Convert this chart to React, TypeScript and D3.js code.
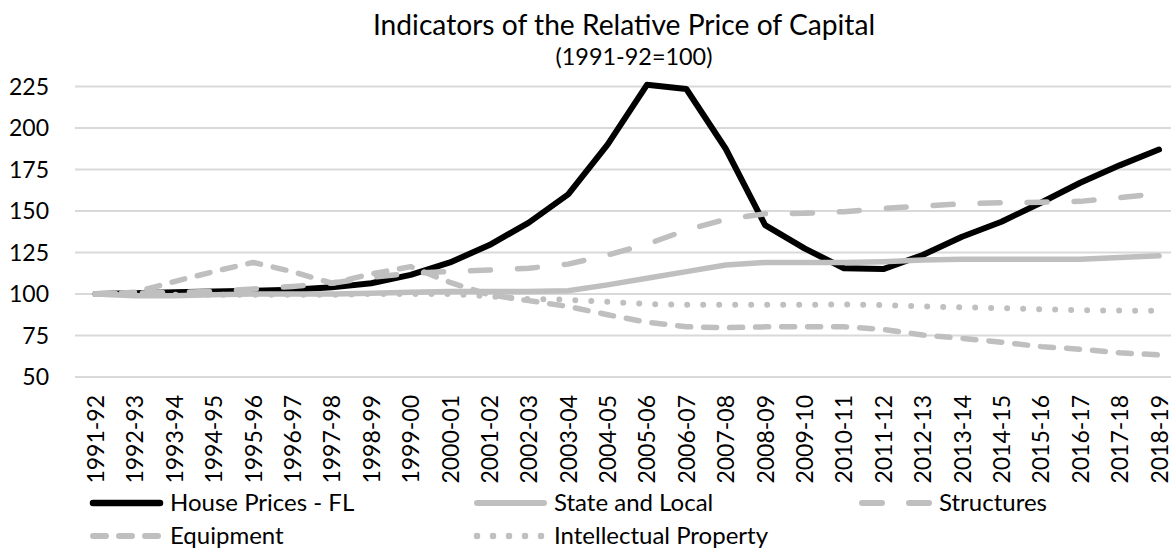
import React from "react";
import * as d3 from "d3";

const categories = [
  "1991-92", "1992-93", "1993-94", "1994-95", "1995-96", "1996-97", "1997-98",
  "1998-99", "1999-00", "2000-01", "2001-02", "2002-03", "2003-04", "2004-05",
  "2005-06", "2006-07", "2007-08", "2008-09", "2009-10", "2010-11", "2011-12",
  "2012-13", "2013-14", "2014-15", "2015-16", "2016-17", "2017-18", "2018-19",
];

const housePrices = [100, 100.5, 101, 101.5, 102, 102.5, 104, 106.5, 111.5, 119, 129.5, 143, 160, 190, 226, 223.5, 187.5, 141.5, 127.5, 115.5, 115, 123.5, 134.5, 143.5, 155, 167, 177.5, 187];
const stateLocal = [100, 99, 99, 99.5, 100, 100, 100, 100.5, 101, 101.5, 101.5, 101.5, 102, 105.5, 109.5, 113.5, 117.5, 119, 119, 119, 119.5, 120.5, 121, 121, 121, 121, 122, 123];
const structures = [100, 100.5, 101, 101.5, 103, 104.5, 106.5, 110, 112.5, 113.5, 114.5, 115.5, 118, 123.5, 130, 138.5, 145, 148.3, 148.6, 149.6, 151.5, 153, 154.3, 155, 155.3, 155.8, 158, 160.6];
const equipment = [100, 101, 107.5, 113.5, 119, 113.5, 106.5, 112, 116.5, 107, 99.5, 96, 92.5, 87.5, 83, 80.3, 79.7, 80.2, 80.3, 80.3, 78.7, 75.3, 73.3, 71, 68.3, 66.7, 64.6, 63.3];
const intellectual = [100, 99.5, 99.5, 99.5, 99.5, 99.5, 99.5, 100, 100, 100, 98.5, 97, 96.5, 95.3, 94, 93.5, 93.5, 93.5, 93.5, 93.7, 93.3, 92.5, 92, 91.5, 90.8, 90.3, 90, 89.8];

const yTicks = [50, 75, 100, 125, 150, 175, 200, 225];

const title = "Indicators of the Relative Price of Capital";
const subtitle = "(1991-92=100)";

const seriesNames = ["House Prices - FL", "State and Local", "Structures", "Equipment", "Intellectual Property"];

const W = 1171;
const H = 550;
const FONT = "Lato, 'Open Sans', sans-serif";

const styles = [
  { color: "#000000", width: 6, dash: null as string | null },
  { color: "#bfbfbf", width: 5.5, dash: null as string | null },
  { color: "#bfbfbf", width: 5.5, dash: "20,27" },
  { color: "#bfbfbf", width: 5.5, dash: "13,13" },
  { color: "#bfbfbf", width: 6, dash: "0,16" },
];

export default function App() {
  const seriesValues = [housePrices, stateLocal, structures, equipment, intellectual];

  const x = d3.scalePoint<string>().domain(categories).range([95.5, 1159]);
  const y = d3.scaleLinear().domain([50, 225]).range([377, 86.5]);
  const gridLeft = 75;
  const gridRight = 1185;

  const line = d3
    .line<number>()
    .x((_, i) => x(categories[i]) as number)
    .y((d) => y(d));

  const legendCols = [90, 474, 859];
  const legendRows = [503, 536];

  return (
    <svg
      width={W}
      height={H}
      viewBox={`0 0 ${W} ${H}`}
      style={{ position: "absolute", left: 0, top: 0, background: "#fff" }}
      fontFamily={FONT}
    >
      <rect x={0} y={0} width={W} height={H} fill="#fff" />
      <text x={624} y={35} textAnchor="middle" fontSize={28.2} fill="#000">
        {title}
      </text>
      <text x={634} y={65} textAnchor="middle" fontSize={23.4} fill="#000">
        {subtitle}
      </text>

      {yTicks.map((t) => (
        <g key={t}>
          <line x1={gridLeft} x2={gridRight} y1={y(t)} y2={y(t)} stroke="#d9d9d9" strokeWidth={2} />
          <text x={49} y={y(t)} dy="0.36em" textAnchor="end" fontSize={23} fill="#000">
            {t}
          </text>
        </g>
      ))}

      {categories.map((c) => (
        <text
          key={c}
          transform={`translate(${(x(c) as number) + 8.5},395) rotate(-90)`}
          textAnchor="end"
          fontSize={23}
          fill="#000"
        >
          {c}
        </text>
      ))}

      {seriesValues.map((vals, si) => (
        <path
          key={seriesNames[si]}
          d={line(vals) || ""}
          fill="none"
          stroke={styles[si].color}
          strokeWidth={styles[si].width}
          strokeDasharray={styles[si].dash || undefined}
          strokeLinecap="round"
          strokeLinejoin="round"
        />
      ))}

      {seriesNames.map((name, si) => {
        const col = si % 3;
        const row = Math.floor(si / 3);
        const lx = legendCols[col];
        const ly = legendRows[row];
        return (
          <g key={name}>
            <line
              x1={lx + 3}
              x2={lx + 70}
              y1={ly}
              y2={ly}
              stroke={styles[si].color}
              strokeWidth={styles[si].width + 0.5}
              strokeDasharray={styles[si].dash || undefined}
              strokeLinecap="round"
            />
            <text x={lx + 80} y={ly} dy="0.34em" fontSize={24} fill="#000">
              {name}
            </text>
          </g>
        );
      })}
    </svg>
  );
}
